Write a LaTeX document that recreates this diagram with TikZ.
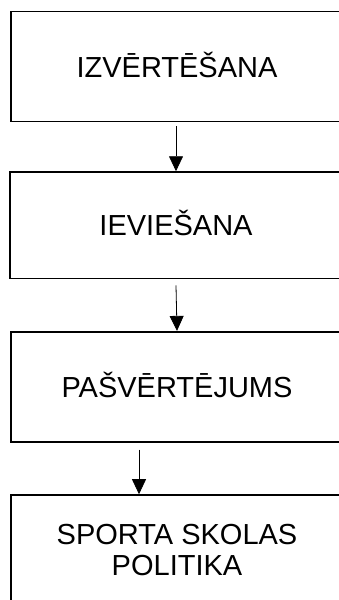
\documentclass[tikz,border=0pt]{standalone}
\usepackage{fontspec}
\setmainfont{Liberation Sans}
\usepackage{tikz}
\usetikzlibrary{arrows.meta, positioning}

\begin{document}
\begin{tikzpicture}[x=1pt, y=-1pt,
    stage/.style={draw, line width=1.6pt, minimum width=332pt, minimum height=110pt,
        inner sep=0pt, align=center, font=\fontsize{29}{31}\selectfont},
    oneline/.style={text height=21pt, text depth=0pt},
    flow/.style={-{Triangle[length=15pt, width=14pt]}, line width=0.8pt}]
    \useasboundingbox (0,0) rectangle (338,600);
    % stages of the cycle
    \node[stage, oneline] (izv) at (177,66.6) {IZVĒRTĒŠANA};
    \node[stage, oneline, minimum height=106.5pt] (iev) at (176,225.3) {IEVIEŠANA};
    \node[stage, oneline] (pas) at (177,386.7) {PAŠVĒRTĒJUMS};
    \node[stage] (spo) at (177,550) {SPORTA SKOLAS\\POLITIKA};
    % arrows between stages
    \draw[flow] ([xshift=-1pt, yshift=-4pt]izv.south) -- (iev.north);
    \draw[flow] ([yshift=-6pt]iev.south) -- (pas.north);
    \draw[flow] ([xshift=-38pt, yshift=-7pt]pas.south) -- ([xshift=-38pt]spo.north);
\end{tikzpicture}
\end{document}
